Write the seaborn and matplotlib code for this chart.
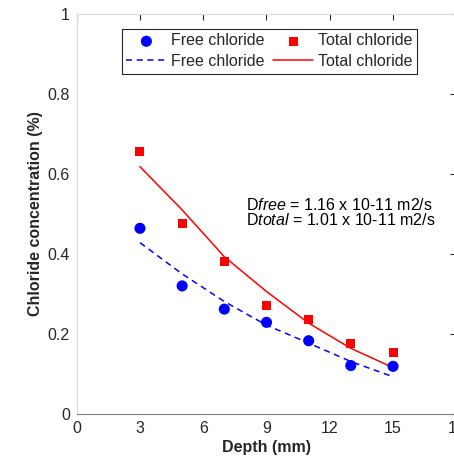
import matplotlib
matplotlib.use("Agg")
import matplotlib.pyplot as plt
import seaborn as sns
import pandas as pd

# measured points
depth = [3, 5, 7, 9, 11, 13, 15]
free_cl = [0.464, 0.320, 0.262, 0.229, 0.183, 0.121, 0.119]
total_cl = [0.657, 0.476, 0.381, 0.272, 0.235, 0.176, 0.154]

# fitted diffusion curves
fit_depth = [3, 5, 7, 9, 11, 13, 15]
free_fit = [0.428, 0.350, 0.281, 0.222, 0.177, 0.131, 0.093]
total_fit = [0.618, 0.510, 0.393, 0.306, 0.227, 0.164, 0.116]

x_ticks = [0, 3, 6, 9, 12, 15, 18]
y_ticks = [0, 0.2, 0.4, 0.6, 0.8, 1.0]
y_tick_labels = ["0", "0.2", "0.4", "0.6", "0.8", "1"]

sns.set_style("white")
plt.rcParams["font.family"] = ["Liberation Sans", "DejaVu Sans"]
plt.rcParams["font.size"] = 11.5
plt.rcParams["mathtext.fontset"] = "custom"
plt.rcParams["mathtext.rm"] = "Liberation Sans"
plt.rcParams["mathtext.it"] = "Liberation Sans:italic"

df_pts = pd.DataFrame({"depth": depth, "free": free_cl, "total": total_cl})
df_fit = pd.DataFrame({"depth": fit_depth, "free": free_fit, "total": total_fit})

fig = plt.figure(figsize=(4.54, 4.62), dpi=100)
ax = fig.add_axes([0.169, 0.104, 0.836, 0.866])

sns.scatterplot(data=df_pts, x="depth", y="free", ax=ax, color="#0000ff", marker="o",
                s=64, edgecolor="none", label="Free chloride", zorder=3)
sns.scatterplot(data=df_pts, x="depth", y="total", ax=ax, color="#ff0000", marker="s",
                s=42, edgecolor="none", label="Total chloride", zorder=3)
sns.lineplot(data=df_fit, x="depth", y="free", ax=ax, color="#0000ff", lw=1.1,
             linestyle=(0, (4, 3)), label="Free chloride")
sns.lineplot(data=df_fit, x="depth", y="total", ax=ax, color="#ff0000", lw=1.1,
             label="Total chloride")

handles, labels = ax.get_legend_handles_labels()
order = [0, 2, 1, 3]
leg = ax.legend([handles[i] for i in order], [labels[i] for i in order], ncol=2,
                loc="upper center", bbox_to_anchor=(0.508, 0.963), fancybox=False,
                framealpha=1, edgecolor="#262626", handlelength=2.5,
                columnspacing=0.55, handletextpad=0.3, borderpad=0.3,
                labelspacing=0.35, borderaxespad=0, fontsize=11.5)
leg.get_frame().set_linewidth(0.8)

ax.text(8.05, 0.503, "D$\\it{free}$ = 1.16 x 10-11 m2/s\nD$\\it{total}$ = 1.01 x 10-11 m2/s",
        fontsize=11.5, va="center", linespacing=0.95, color="#000000")

ax.set_xlim(0, 18)
ax.set_ylim(0, 1)
ax.set_xticks(x_ticks)
ax.set_yticks(y_ticks)
ax.set_yticklabels(y_tick_labels)
ax.set_xlabel("Depth (mm)", fontweight="bold", color="#262626", labelpad=3)
ax.set_ylabel("Chloride concentration (%)", fontweight="bold", color="#262626", labelpad=3)

ax.tick_params(direction="in", length=4, width=0.8, colors="#262626", labelsize=11.5,
               top=True, right=True, pad=5)
ax.spines["bottom"].set_color("#808080")
ax.spines["top"].set_color("#d9d9d9")
ax.spines["left"].set_color("#d9d9d9")
ax.spines["right"].set_color("#d9d9d9")
for sp in ax.spines.values():
    sp.set_linewidth(0.8)

fig.savefig("out.png", dpi=100)
